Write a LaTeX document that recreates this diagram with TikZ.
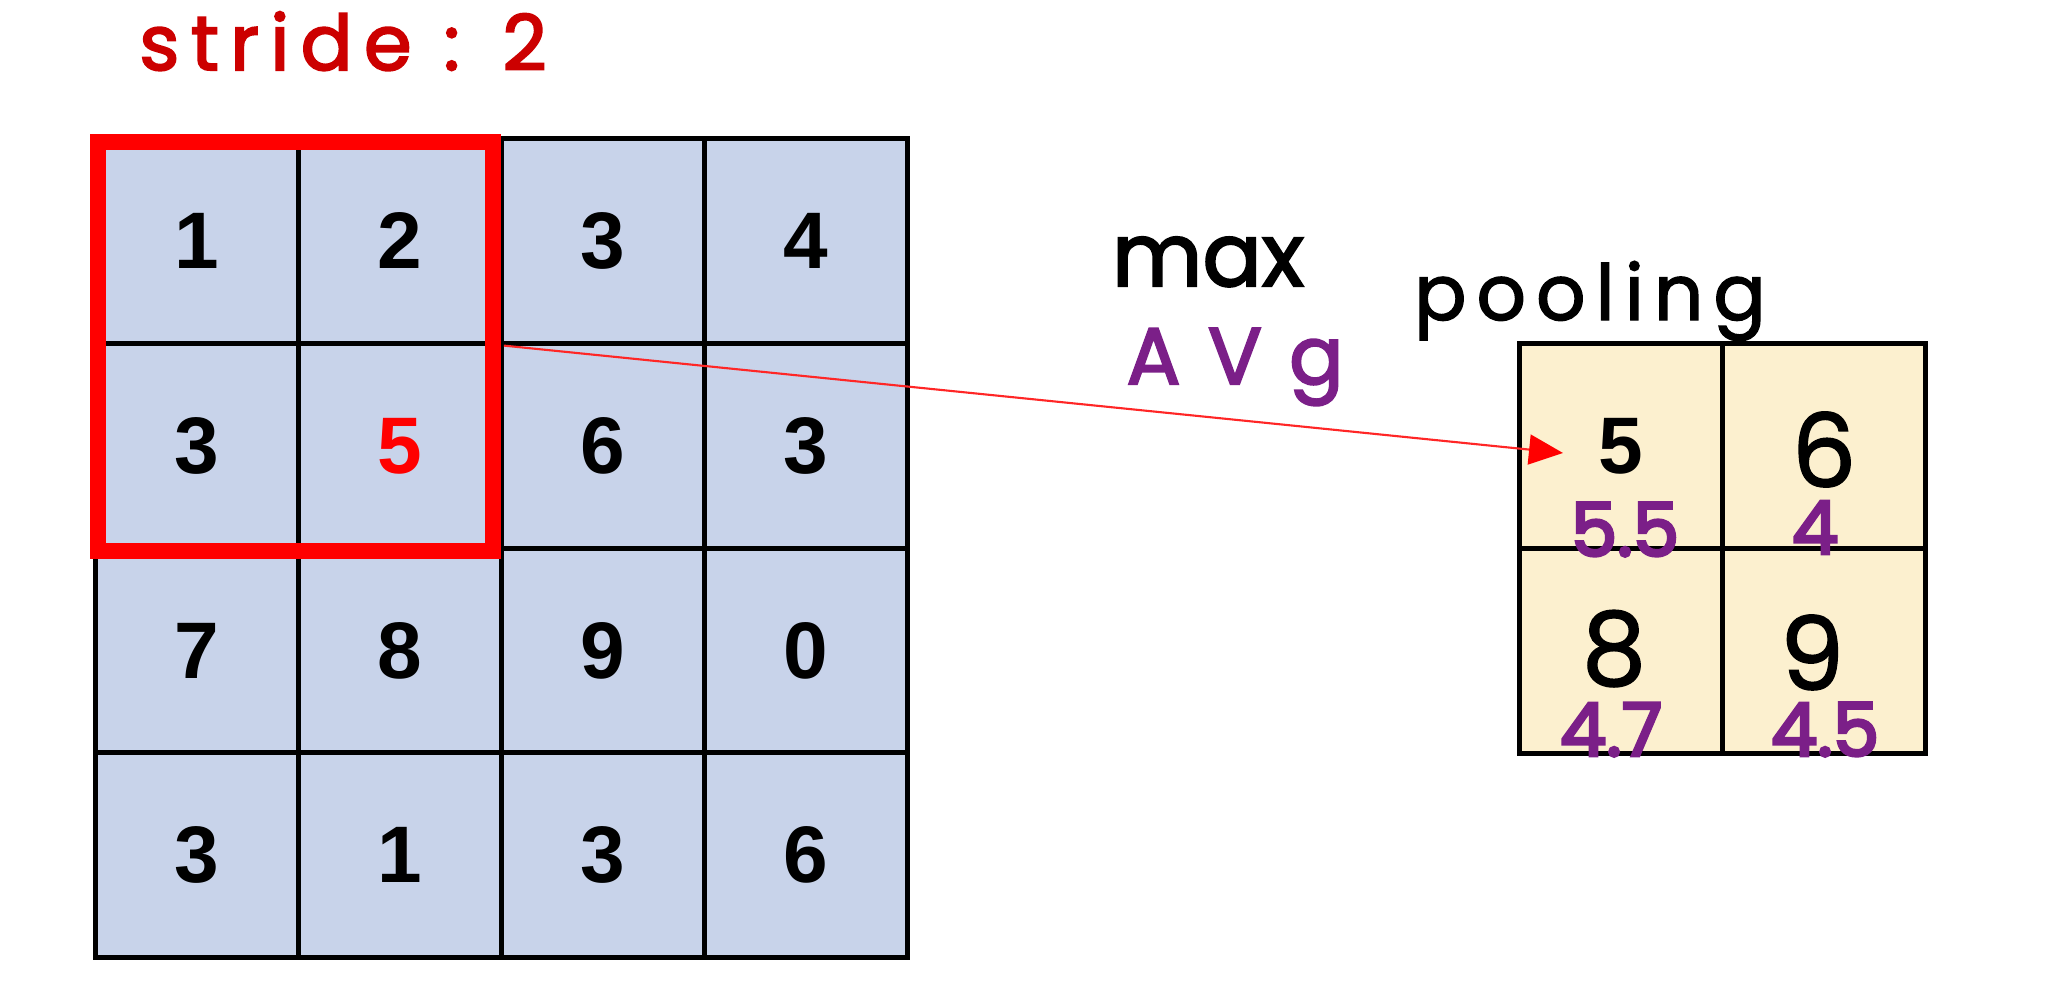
\documentclass[tikz,border=0pt]{standalone}
\usepackage{fontspec}
\setmainfont{Liberation Sans}
\newfontfamily\hand{Poppins}[FakeBold=1.4]
\newfontfamily\handB{Poppins}[FakeBold=2.4]
\newfontfamily\handN{Poppins}[FakeBold=4]
\newfontfamily\handS{Poppins}[LetterSpace=15,FakeBold=2.6]
\newfontfamily\handA{Poppins}[LetterSpace=34,FakeBold=2.6]
\newfontfamily\handP{Poppins}[LetterSpace=13,FakeBold=1.8]
\usetikzlibrary{arrows.meta}
\definecolor{cellblue}{HTML}{C8D3EA}
\definecolor{cellcream}{HTML}{FCF0CF}
\definecolor{penred}{HTML}{CC0000}
\definecolor{penpurple}{HTML}{7B1F88}
\definecolor{boxred}{HTML}{FF0000}
\definecolor{arrowred}{HTML}{FF2626}
\begin{document}
\begin{tikzpicture}[x=0.01cm,y=-0.01cm,
  bigcell/.style={draw=black,line width=1.3pt,fill=cellblue,minimum width=2.03cm,minimum height=2.045cm,inner sep=0pt,font=\fontsize{22.8}{24}\selectfont\bfseries},
  smallcell/.style={draw=black,line width=1.3pt,fill=cellcream,minimum width=2.03cm,minimum height=2.05cm,inner sep=0pt,font=\fontsize{22.8}{24}\selectfont\bfseries},
  pen/.style={inner sep=0pt,anchor=base},
  handdigit/.style={pen,font=\hand\fontsize{29}{30}\selectfont},
  avgnum/.style={pen,text=penpurple,font=\handN\fontsize{21}{24}\selectfont}]
\useasboundingbox (0,0) rectangle (2063,1000);
\fill[white] (0,0) rectangle (2063,1000);
% input grid
\node[bigcell] (c11) at (197,241) {1};
\node[bigcell] (c12) at (400,241) {2};
\node[bigcell] (c13) at (603,241) {3};
\node[bigcell] (c14) at (806,241) {4};
\node[bigcell] (c21) at (197,446) {3};
\node[bigcell,text=boxred] (c22) at (400,446) {5};
\node[bigcell] (c23) at (603,446) {6};
\node[bigcell] (c24) at (806,446) {3};
\node[bigcell] (c31) at (197,651) {7};
\node[bigcell] (c32) at (400,651) {8};
\node[bigcell] (c33) at (603,651) {9};
\node[bigcell] (c34) at (806,651) {0};
\node[bigcell] (c41) at (197,855) {3};
\node[bigcell] (c42) at (400,855) {1};
\node[bigcell] (c43) at (603,855) {3};
\node[bigcell] (c44) at (806,855) {6};
% window
\draw[boxred,line width=4.27pt] (98,142) rectangle (493,551);
% output grid
\node[smallcell] (p11) at (1621,446) {5};
\node[smallcell] (p12) at (1824,446) {};
\node[smallcell] (p21) at (1621,651) {};
\node[smallcell] (p22) at (1824,651) {};
\node[handdigit] (d12) at (1824,487) {6};
\node[handdigit] (d21) at (1614,685) {8};
\node[handdigit] (d22) at (1812,690) {9};
% arrow
\coordinate (tip) at (1563,453);
\draw[arrowred,line width=0.6pt,-{Triangle[length=0.34cm,width=0.3cm,color=boxred]}] (c12.south east) -- (tip);
% handwriting
\node[pen,text=penred,font=\handS\fontsize{21.8}{24}\selectfont] (stride) at (343,70) {stride : 2};
\node[pen,font=\handB\fontsize{25}{26}\selectfont] (max) at (1208,286) {max};
\node[pen,text=penpurple,font=\handA\fontsize{22.8}{24}\selectfont] (avg) at (1235,384) {AVg};
\node[pen,font=\handP\fontsize{22}{24}\selectfont] (pooling) at (1590,320) {pooling};
\node[avgnum] (a11) at (1625,556) {5.5};
\node[avgnum] (a12) at (1815,554) {4};
\node[avgnum] (a21) at (1611,756) {4.7};
\node[avgnum] (a22) at (1825,756) {4.5};
\end{tikzpicture}
\end{document}
